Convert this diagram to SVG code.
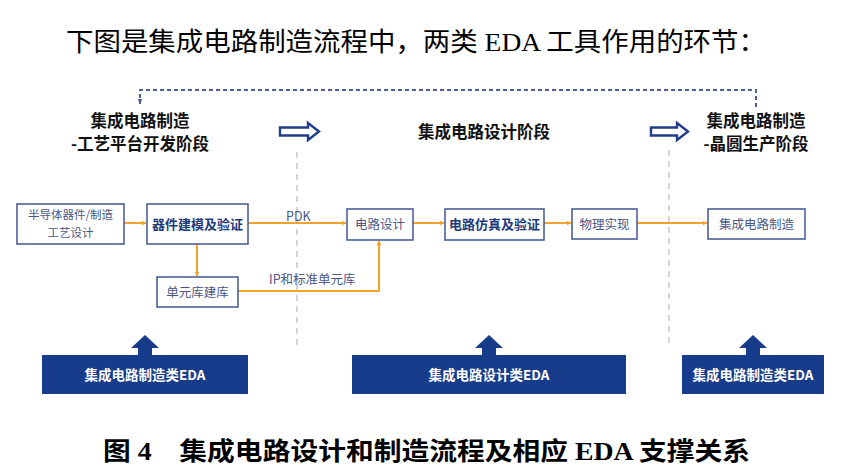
<svg xmlns="http://www.w3.org/2000/svg" width="867" height="474" viewBox="0 0 867 474">
<defs>
<style>
.cjk{font-family:"Noto Sans CJK SC","Noto Sans",sans-serif}
.ser{font-family:"Liberation Serif","Noto Sans CJK SC",serif}
.stage{font-family:"Noto Sans CJK SC",sans-serif;font-weight:700;font-size:16.5px;fill:#111;text-anchor:middle}
.box{fill:#fff;stroke:#4d5f96;stroke-width:1.6}
.bt{font-family:"Noto Sans CJK SC",sans-serif;font-size:12.5px;fill:#4a5786;text-anchor:middle}
.bt2{font-family:"Noto Sans CJK SC",sans-serif;font-size:11.5px;fill:#4a5786;text-anchor:middle}
.bb{font-family:"Noto Sans CJK SC",sans-serif;font-size:13px;font-weight:700;fill:#1e3a7c;text-anchor:middle}
.or{fill:none;stroke:#f2a32b;stroke-width:2}
.lbl{font-family:"Noto Sans CJK SC",sans-serif;font-size:12.5px;fill:#4a5786}
.eda{fill:#163c8b}
.et{font-family:"Noto Sans CJK SC",sans-serif;font-size:13.5px;font-weight:700;fill:#fff;text-anchor:middle}
.hollow{fill:#fff;stroke:#1f3e8a;stroke-width:2.4;stroke-linejoin:miter}
.vdash{stroke:#c8c8c8;stroke-width:1.5;stroke-dasharray:6 5;fill:none}
</style>
<marker id="ao" viewBox="0 0 10 10" refX="9" refY="5" markerWidth="5" markerHeight="5" orient="auto" markerUnits="userSpaceOnUse">
<path d="M0,0 L10,5 L0,10 z" fill="#f2a32b"/>
</marker>
<marker id="ab" viewBox="0 0 10 10" refX="9" refY="5" markerWidth="6" markerHeight="6" orient="auto" markerUnits="userSpaceOnUse">
<path d="M0,1 L10,5 L0,9 z" fill="#4d5f96"/>
</marker>
</defs>
<rect width="867" height="474" fill="#fff"/>

<text x="66" y="51" font-size="26" class="ser" textLength="700" lengthAdjust="spacingAndGlyphs"><tspan class="cjk">下图是集成电路制造流程中，两类</tspan> EDA <tspan class="cjk">工具作用的环节：</tspan></text>

<g id="connectors">
<path d="M756,107 L756,90 L140,90 L140,104" fill="none" stroke="#4d5f96" stroke-width="2" stroke-dasharray="4 3" marker-end="url(#ab)"/>
<line class="vdash" x1="297" y1="152" x2="297" y2="345"/>
<line class="vdash" x1="669" y1="150" x2="669" y2="345"/>
<line class="or" x1="124" y1="223" x2="146" y2="223" marker-end="url(#ao)"/>
<line class="or" x1="248" y1="223" x2="346" y2="223" marker-end="url(#ao)"/>
<line class="or" x1="197" y1="244" x2="197" y2="276" marker-end="url(#ao)"/>
<path class="or" d="M238,291 L379,291 L379,241" marker-end="url(#ao)"/>
<line class="or" x1="413" y1="223" x2="444" y2="223" marker-end="url(#ao)"/>
<line class="or" x1="544" y1="223" x2="571" y2="223" marker-end="url(#ao)"/>
<line class="or" x1="637" y1="223" x2="707" y2="223" marker-end="url(#ao)"/>
<text class="lbl" x="286" y="221">PDK</text>
<text class="lbl" x="269" y="284">IP和标准单元库</text>
<path class="hollow" d="M280,127.5 L308,127.5 L308,123 L319,131.5 L308,140 L308,135.5 L280,135.5 z"/>
<path class="hollow" d="M651,127.5 L677,127.5 L677,123 L688,131.5 L677,140 L677,135.5 L651,135.5 z"/>
</g>

<g id="stage1">
<text class="stage" x="140" y="126.5">集成电路制造</text>
<text class="stage" x="140" y="150">-工艺平台开发阶段</text>
</g>
<g id="stage2">
<text class="stage" x="484" y="138">集成电路设计阶段</text>
</g>
<g id="stage3">
<text class="stage" x="756" y="126.5">集成电路制造</text>
<text class="stage" x="756" y="150">-晶圆生产阶段</text>
</g>

<g id="n-semi">
<rect class="box" x="17" y="204" width="107" height="40"/>
<text class="bt2" x="70.5" y="219">半导体器件/制造</text>
<text class="bt2" x="70.5" y="237">工艺设计</text>
</g>
<g id="n-model">
<rect class="box" x="147" y="204" width="101" height="40"/>
<text class="bb" x="197.5" y="228.5">器件建模及验证</text>
</g>
<g id="n-lib">
<rect class="box" x="157" y="277" width="81" height="30"/>
<text class="bt" x="197.5" y="296.5">单元库建库</text>
</g>
<g id="n-design">
<rect class="box" x="347" y="209" width="66" height="31"/>
<text class="bt" x="380" y="229">电路设计</text>
</g>
<g id="n-sim">
<rect class="box" x="445" y="209" width="99" height="31"/>
<text class="bb" x="494.5" y="229">电路仿真及验证</text>
</g>
<g id="n-phys">
<rect class="box" x="572" y="209" width="65" height="30"/>
<text class="bt" x="604.5" y="228.5">物理实现</text>
</g>
<g id="n-fab">
<rect class="box" x="708" y="209" width="97" height="30"/>
<text class="bt" x="756.5" y="228.5">集成电路制造</text>
</g>

<g id="eda1">
<path class="eda" d="M138,355 L138,348 L131,348 L145,335 L159,348 L152,348 L152,355 z"/>
<rect class="eda" x="42" y="355" width="206" height="39"/>
<text class="et" x="145" y="380">集成电路制造类EDA</text>
</g>
<g id="eda2">
<path class="eda" d="M482,355 L482,348 L475,348 L489,335 L503,348 L496,348 L496,355 z"/>
<rect class="eda" x="352" y="355" width="274" height="39"/>
<text class="et" x="489" y="380">集成电路设计类EDA</text>
</g>
<g id="eda3">
<path class="eda" d="M746,355 L746,348 L739,348 L753,335 L767,348 L760,348 L760,355 z"/>
<rect class="eda" x="682" y="355" width="142" height="39"/>
<text class="et" x="753" y="380">集成电路制造类EDA</text>
</g>

<text x="103" y="460" font-size="25" font-weight="700" class="ser" textLength="647" lengthAdjust="spacingAndGlyphs"><tspan class="cjk">图</tspan> 4<tspan class="cjk">　集成电路设计和制造流程及相应</tspan> EDA <tspan class="cjk">支撑关系</tspan></text>
</svg>
